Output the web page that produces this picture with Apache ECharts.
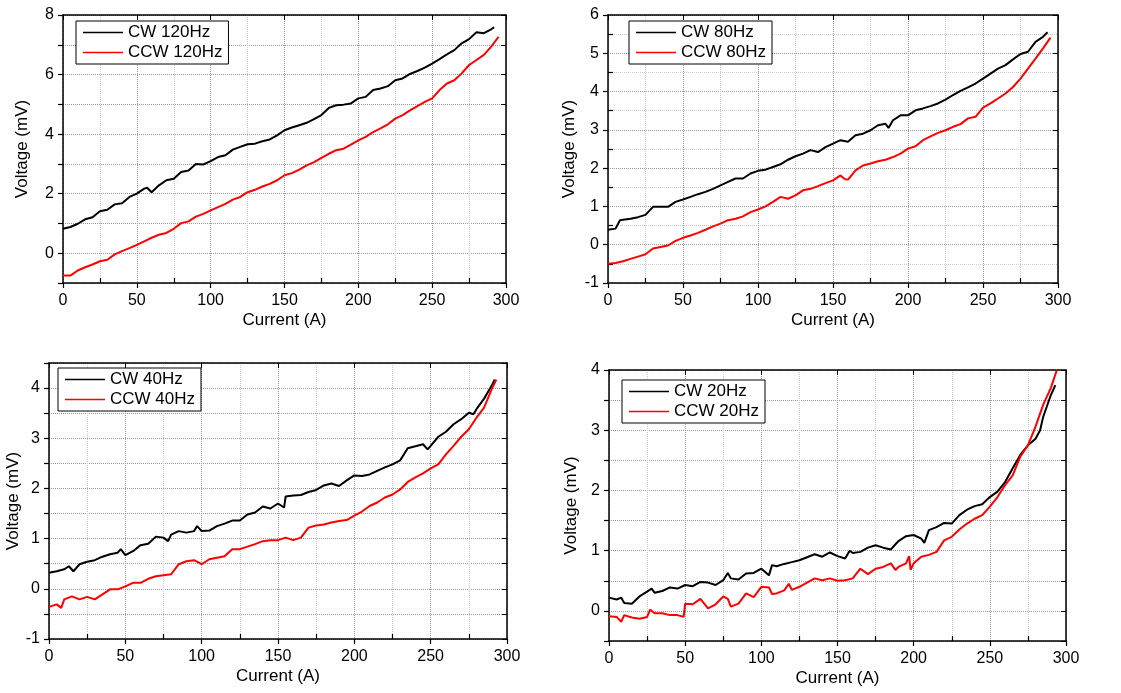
<!DOCTYPE html>
<html>
<head>
<meta charset="utf-8">
<script src="https://cdn.jsdelivr.net/npm/echarts@6/dist/echarts.min.js"></script>
<style>
  html, body { margin: 0; padding: 0; background: #fff; }
  #chart { width: 1121px; height: 693px; }
</style>
</head>
<body>
<div id="chart"></div>
<script>
// [current (A), voltage (mV)]
const cw120 = [[0,0.82],[5,0.88],[10,0.99],[15,1.14],[20,1.21],[25,1.41],[30,1.46],[35,1.64],[40,1.68],[45,1.89],[50,2.0],[55,2.17],[57,2.2],[60,2.05],[65,2.28],[70,2.45],[75,2.5],[80,2.73],[85,2.78],[90,3.0],[95,2.98],[100,3.09],[105,3.23],[110,3.29],[115,3.48],[120,3.57],[125,3.66],[130,3.68],[135,3.76],[140,3.82],[145,3.96],[150,4.13],[155,4.22],[160,4.3],[165,4.38],[170,4.5],[175,4.64],[180,4.88],[185,4.97],[190,4.99],[195,5.03],[200,5.2],[205,5.25],[210,5.48],[215,5.53],[220,5.61],[225,5.81],[230,5.87],[235,6.02],[240,6.12],[245,6.23],[250,6.37],[255,6.52],[260,6.68],[265,6.82],[270,7.05],[275,7.19],[280,7.42],[285,7.39],[290,7.52],[292,7.59]];
const ccw120 = [[0,-0.75],[5,-0.75],[10,-0.58],[15,-0.47],[20,-0.38],[25,-0.27],[30,-0.22],[35,-0.04],[40,0.07],[45,0.17],[50,0.28],[55,0.4],[60,0.52],[65,0.62],[70,0.68],[75,0.82],[80,1.01],[85,1.07],[90,1.23],[95,1.32],[100,1.44],[105,1.55],[110,1.66],[115,1.8],[120,1.89],[125,2.05],[130,2.13],[135,2.24],[140,2.33],[145,2.45],[150,2.62],[155,2.69],[160,2.81],[165,2.95],[170,3.06],[175,3.2],[180,3.34],[185,3.46],[190,3.51],[195,3.65],[200,3.79],[205,3.91],[210,4.07],[215,4.19],[220,4.33],[225,4.52],[230,4.64],[235,4.8],[240,4.94],[245,5.08],[250,5.2],[255,5.48],[260,5.7],[265,5.81],[270,6.04],[275,6.32],[280,6.49],[285,6.66],[290,6.94],[295,7.27]];
const cw80 = [[0,0.39],[5,0.42],[8,0.64],[10,0.65],[15,0.68],[20,0.72],[25,0.78],[30,0.99],[35,0.99],[40,0.99],[45,1.12],[50,1.18],[55,1.25],[60,1.32],[65,1.38],[70,1.46],[75,1.55],[80,1.64],[85,1.73],[90,1.73],[95,1.86],[100,1.93],[105,1.96],[110,2.03],[115,2.1],[120,2.22],[125,2.31],[130,2.38],[135,2.47],[140,2.42],[145,2.55],[150,2.64],[155,2.73],[160,2.69],[165,2.86],[170,2.9],[175,2.99],[180,3.12],[185,3.16],[187,3.05],[190,3.25],[195,3.38],[200,3.38],[205,3.51],[210,3.56],[215,3.62],[220,3.69],[225,3.79],[230,3.91],[235,4.02],[240,4.11],[245,4.21],[250,4.34],[255,4.47],[260,4.6],[265,4.69],[270,4.84],[275,4.98],[280,5.04],[285,5.3],[290,5.43],[293,5.55]];
const ccw80 = [[0,-0.5],[5,-0.48],[10,-0.43],[15,-0.37],[20,-0.31],[25,-0.25],[30,-0.1],[35,-0.06],[40,-0.02],[45,0.1],[50,0.18],[55,0.24],[60,0.31],[65,0.39],[70,0.48],[75,0.55],[80,0.64],[85,0.68],[90,0.74],[95,0.85],[100,0.92],[105,1.0],[110,1.12],[115,1.25],[120,1.2],[125,1.29],[130,1.42],[135,1.46],[140,1.53],[145,1.61],[150,1.68],[155,1.81],[158,1.71],[160,1.7],[165,1.94],[170,2.07],[175,2.12],[180,2.18],[185,2.22],[190,2.29],[195,2.38],[200,2.51],[205,2.57],[210,2.73],[215,2.83],[220,2.92],[225,2.99],[230,3.08],[235,3.15],[240,3.3],[245,3.34],[250,3.58],[255,3.69],[260,3.82],[265,3.95],[270,4.12],[275,4.34],[280,4.6],[285,4.86],[290,5.13],[295,5.41]];
const cw40 = [[0,0.32],[5,0.35],[10,0.39],[13,0.45],[16,0.35],[20,0.49],[25,0.54],[30,0.57],[35,0.64],[40,0.69],[45,0.72],[47,0.79],[50,0.67],[55,0.75],[60,0.87],[65,0.9],[70,1.04],[75,1.02],[78,0.95],[80,1.08],[85,1.15],[90,1.12],[95,1.15],[97,1.25],[100,1.15],[105,1.16],[110,1.25],[115,1.3],[120,1.36],[125,1.36],[130,1.48],[135,1.52],[140,1.64],[145,1.6],[150,1.7],[154,1.62],[155,1.84],[160,1.86],[165,1.87],[170,1.93],[175,1.97],[180,2.06],[185,2.1],[190,2.05],[195,2.16],[200,2.26],[205,2.25],[210,2.28],[215,2.35],[220,2.42],[225,2.48],[230,2.56],[235,2.8],[240,2.84],[245,2.88],[248,2.78],[250,2.85],[255,3.03],[260,3.13],[265,3.28],[270,3.38],[275,3.51],[278,3.48],[280,3.58],[285,3.79],[290,4.05],[292,4.17]];
const ccw40 = [[0,-0.36],[5,-0.31],[8,-0.38],[10,-0.21],[15,-0.15],[20,-0.21],[25,-0.16],[30,-0.21],[35,-0.11],[40,-0.01],[45,-0.01],[50,0.05],[55,0.12],[60,0.12],[65,0.2],[70,0.25],[75,0.27],[80,0.29],[85,0.49],[90,0.55],[95,0.57],[100,0.49],[105,0.59],[110,0.62],[115,0.65],[120,0.79],[125,0.79],[130,0.84],[135,0.89],[140,0.95],[145,0.97],[150,0.97],[155,1.02],[160,0.97],[165,1.02],[170,1.22],[175,1.26],[180,1.28],[185,1.32],[190,1.35],[195,1.37],[200,1.46],[205,1.54],[210,1.65],[215,1.72],[220,1.82],[225,1.88],[230,1.98],[235,2.13],[240,2.22],[245,2.3],[250,2.4],[255,2.48],[260,2.68],[265,2.85],[270,3.03],[275,3.18],[280,3.41],[285,3.61],[290,3.98],[293,4.17]];
const cw20 = [[0,0.22],[5,0.19],[8,0.22],[10,0.13],[15,0.12],[20,0.24],[25,0.32],[28,0.37],[30,0.3],[35,0.33],[40,0.39],[45,0.37],[50,0.43],[55,0.41],[60,0.48],[65,0.47],[70,0.43],[75,0.51],[78,0.63],[80,0.54],[85,0.52],[90,0.62],[95,0.63],[100,0.7],[105,0.59],[107,0.76],[110,0.74],[115,0.78],[120,0.81],[125,0.84],[130,0.89],[135,0.94],[140,0.9],[145,0.97],[150,0.91],[155,0.87],[158,1.0],[160,0.96],[165,0.98],[170,1.05],[175,1.09],[180,1.05],[185,1.02],[190,1.16],[195,1.24],[200,1.26],[205,1.2],[207,1.13],[210,1.34],[215,1.39],[220,1.46],[225,1.45],[230,1.59],[235,1.68],[240,1.74],[245,1.77],[250,1.89],[255,1.98],[260,2.14],[265,2.37],[270,2.59],[275,2.75],[280,2.86],[283,3.0],[285,3.22],[290,3.58],[293,3.75]];
const ccw20 = [[0,-0.09],[5,-0.1],[8,-0.18],[10,-0.07],[15,-0.11],[20,-0.13],[25,-0.1],[27,0.02],[30,-0.04],[35,-0.04],[40,-0.07],[45,-0.07],[49,-0.1],[50,0.12],[55,0.11],[60,0.2],[65,0.04],[70,0.11],[75,0.24],[78,0.2],[80,0.07],[85,0.12],[90,0.29],[95,0.23],[100,0.4],[105,0.39],[107,0.28],[110,0.29],[115,0.34],[118,0.45],[120,0.35],[125,0.4],[130,0.47],[135,0.54],[140,0.51],[145,0.54],[150,0.5],[155,0.51],[160,0.54],[165,0.7],[170,0.61],[175,0.7],[180,0.73],[185,0.79],[188,0.68],[190,0.73],[195,0.79],[197,0.91],[198,0.68],[200,0.79],[205,0.9],[210,0.93],[215,0.98],[220,1.17],[225,1.23],[230,1.35],[235,1.45],[240,1.53],[245,1.59],[250,1.73],[255,1.89],[260,2.09],[265,2.25],[270,2.56],[275,2.75],[280,3.06],[285,3.42],[290,3.7],[294,4.0]];

const xTicks = { min: 0, max: 300, interval: 50 };
const freqs = ['120Hz', '80Hz', '40Hz', '20Hz'];

const font = 'Arial, "Liberation Sans", sans-serif';

const panels = [
  { grid: { left: 63, right: 615, top: 15, height: 268 }, y: { min: -1, max: 8, interval: 1, every: 2, minor: false }, nameGapY: 32, legend: { left: 76, top: 21 }, cw: cw120, ccw: ccw120 },
  { grid: { left: 608, right: 63, top: 15, height: 268 }, y: { min: -1, max: 6, interval: 1, every: 1, minor: true }, nameGapY: 30, legend: { left: 629, top: 21 }, cw: cw80, ccw: ccw80 },
  { grid: { left: 49, right: 614, top: 363, height: 276 }, y: { min: -1, max: 4.5, interval: 0.5, every: 1, minor: false }, nameGapY: 26, legend: { left: 58, top: 368 }, cw: cw40, ccw: ccw40 },
  { grid: { left: 609, right: 55, top: 370, height: 271 }, y: { min: -0.5, max: 4, interval: 0.5, every: 1, minor: false }, nameGapY: 29, legend: { left: 622, top: 380 }, cw: cw20, ccw: ccw20 }
];

const grid = [], xAxis = [], yAxis = [], series = [], legend = [];

panels.forEach(function (p, i) {
  grid.push(Object.assign({ containLabel: false }, p.grid));
  const every = p.y.every;
  // bottom x axis
  xAxis.push({
    type: 'value', gridIndex: i, position: 'bottom', min: xTicks.min, max: xTicks.max, interval: xTicks.interval,
    name: 'Current (A)', nameLocation: 'middle', nameGap: 29,
    nameTextStyle: { fontFamily: font, fontSize: 17, color: '#000' },
    axisLine: { onZero: false, lineStyle: { color: '#000', width: 1.5 } },
    axisTick: { inside: false, length: 5, lineStyle: { color: '#000', width: 1.2 } },
    minorTick: { show: true, splitNumber: 2, length: -5, lineStyle: { color: '#000', width: 1.2 } },
    axisLabel: { fontFamily: font, fontSize: 16, color: '#000', margin: 10 },
    splitLine: { show: true, lineStyle: { color: '#999', type: 'dotted', width: 1 } },
    minorSplitLine: { show: true, lineStyle: { color: '#ccc', type: 'dotted', width: 1 } }
  });
  // top frame
  xAxis.push({
    type: 'value', gridIndex: i, position: 'top', min: xTicks.min, max: xTicks.max, interval: xTicks.interval,
    axisLine: { onZero: false, lineStyle: { color: '#000', width: 1.5 } },
    axisTick: { inside: true, length: 5, lineStyle: { color: '#000' } },
    axisLabel: { show: false }, splitLine: { show: false }
  });
  // left y axis
  yAxis.push({
    type: 'value', gridIndex: i, position: 'left', min: p.y.min, max: p.y.max, interval: p.y.interval,
    name: 'Voltage (mV)', nameLocation: 'middle', nameGap: p.nameGapY,
    nameTextStyle: { fontFamily: font, fontSize: 17, color: '#000' },
    axisLine: { onZero: false, lineStyle: { color: '#000', width: 1.5 } },
    axisTick: { inside: false, length: 5, lineStyle: { color: '#000', width: 1.2 } },
    minorTick: { show: p.y.minor, splitNumber: 2, length: -5, lineStyle: { color: '#000', width: 1.2 } },
    axisLabel: {
      fontFamily: font, fontSize: 16, color: '#000', margin: 9,
      formatter: function (v) {
        const k = Math.round(v * 1000) / 1000;
        return (Math.abs(k / every - Math.round(k / every)) < 1e-6) ? String(k) : '';
      }
    },
    splitLine: { show: true, lineStyle: { color: '#999', type: 'dotted', width: 1 } },
    minorSplitLine: { show: p.y.minor, lineStyle: { color: '#ccc', type: 'dotted', width: 1 } }
  });
  // right frame
  yAxis.push({
    type: 'value', gridIndex: i, position: 'right', min: p.y.min, max: p.y.max, interval: p.y.interval,
    axisLine: { show: true, onZero: false, lineStyle: { color: '#000', width: 1.5 } },
    axisTick: { show: true, inside: true, length: 5, lineStyle: { color: '#000' } },
    axisLabel: { show: false }, splitLine: { show: false }
  });

  const cwName = 'CW ' + freqs[i];
  const ccwName = 'CCW ' + freqs[i];
  series.push({
    name: cwName, type: 'line', xAxisIndex: 2 * i, yAxisIndex: 2 * i,
    data: p.cw, showSymbol: false, symbol: 'none',
    lineStyle: { color: '#000', width: 2 }, itemStyle: { color: '#000' }
  });
  series.push({
    name: ccwName, type: 'line', xAxisIndex: 2 * i, yAxisIndex: 2 * i,
    data: p.ccw, showSymbol: false, symbol: 'none',
    lineStyle: { color: '#ff0000', width: 2 }, itemStyle: { color: '#ff0000' }
  });
  legend.push({
    data: [cwName, ccwName], orient: 'vertical', left: p.legend.left, top: p.legend.top,
    icon: 'rect', itemWidth: 40, itemHeight: 1.5, itemGap: 3,
    padding: [3, 6, 3, 7], borderColor: '#000', borderWidth: 1, borderRadius: 0,
    backgroundColor: '#fff',
    textStyle: { fontFamily: font, fontSize: 17, color: '#000' }
  });
});

const chart = echarts.init(document.getElementById('chart'));
chart.setOption({
  animation: false,
  backgroundColor: '#fff',
  grid: grid,
  xAxis: xAxis,
  yAxis: yAxis,
  legend: legend,
  series: series
});
</script>
</body>
</html>
